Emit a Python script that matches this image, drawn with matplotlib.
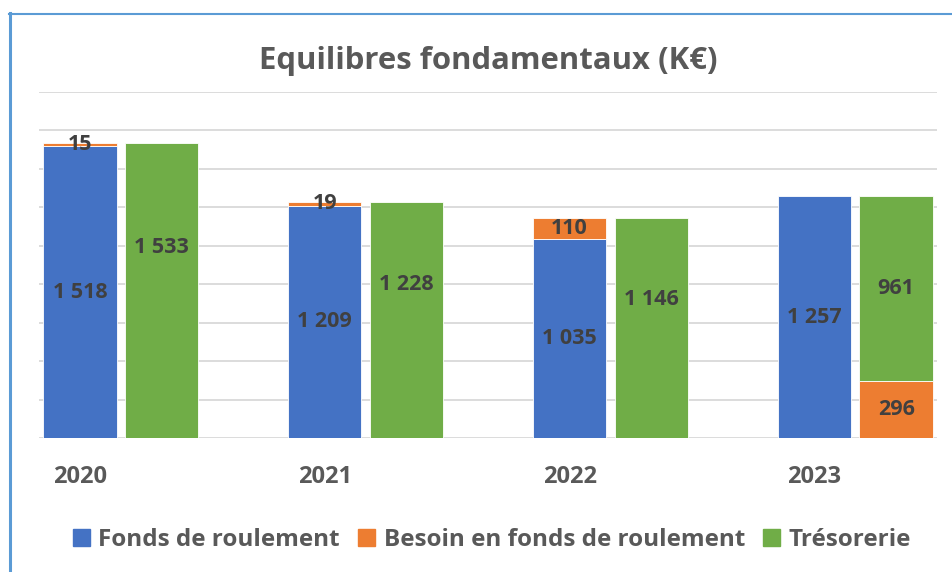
import matplotlib
matplotlib.use("Agg")
import matplotlib.pyplot as plt
from matplotlib.patches import Rectangle
from matplotlib.lines import Line2D

# ---- data ----
years = ["2020", "2021", "2022", "2023"]
fonds_roulement = [1518, 1209, 1035, 1257]
besoin_fr = [15, 19, 110, -296]          # negative -> shown under Trésorerie
tresorerie = [1533, 1228, 1146, 961]
series_names = ["Fonds de roulement", "Besoin en fonds de roulement", "Trésorerie"]

# ---- style ----
C_FR, C_BFR, C_TR = "#4472C4", "#ED7D31", "#70AD47"
TXT = "#595959"
LBL = "#404040"
GRID = "#D9D9D9"
FONT = "Open Sans"
green_label_frac = [0.645, 0.65, 0.63, 0.5]

W, H = 952, 572
fig = plt.figure(figsize=(W / 100, H / 100), dpi=100)
fig.patch.set_facecolor("white")

def fx(px):
    return px / W

def fy(py):
    return 1 - py / H

ax = fig.add_axes([fx(39), fy(438), fx(937) - fx(39), fy(92) - fy(438)])
ax.set_xlim(-0.5, 10.5)
ax.set_ylim(0, 1800)
ax.set_yticks(range(0, 1801, 200))
ax.yaxis.grid(True, color=GRID, linewidth=1.3)
ax.set_axisbelow(True)
for s in ax.spines.values():
    s.set_visible(False)
ax.tick_params(axis="y", length=0, labelleft=False)

bw = 0.9
fmt = lambda v: f"{abs(v):,}".replace(",", " ")
lab_kw = dict(ha="center", va="center", color=LBL, fontsize=15.5,
              fontweight="bold", family=FONT)

for i, yr in enumerate(years):
    xb = 3 * i
    xg = 3 * i + 1
    fr = fonds_roulement[i]
    b = besoin_fr[i]
    t = tresorerie[i]
    ax.bar(xb, fr, width=bw, color=C_FR, edgecolor="white", linewidth=0.6)
    ax.text(xb, fr / 2, fmt(fr), **lab_kw)
    if b >= 0:
        ax.bar(xb, b, bottom=fr, width=bw, color=C_BFR, edgecolor="white", linewidth=0.6)
        ax.text(xb, fr + b / 2, fmt(b), **lab_kw)
        ax.bar(xg, t, width=bw, color=C_TR, edgecolor="white", linewidth=0.6)
        ax.text(xg, t * green_label_frac[i], fmt(t), **lab_kw)
    else:
        ab = abs(b)
        ax.bar(xg, ab, width=bw, color=C_BFR, edgecolor="white", linewidth=0.6)
        ax.text(xg, ab / 2, fmt(b), **lab_kw)
        ax.bar(xg, t, bottom=ab, width=bw, color=C_TR, edgecolor="white", linewidth=0.6)
        ax.text(xg, ab + t * green_label_frac[i], fmt(t), **lab_kw)

ax.set_xticks([3 * i for i in range(len(years))])
ax.set_xticklabels(years, fontsize=17, fontweight="bold", color=TXT, family=FONT)
ax.tick_params(axis="x", length=0, pad=32.4)
for lab in ax.get_xticklabels():
    lab.set_va("baseline")

# title
fig.text(fx(488), fy(69), "Equilibres fondamentaux (K€)", ha="center", va="baseline",
         fontsize=22.4, fontweight="bold", color=TXT, family=FONT)

# legend
handles = [Rectangle((0, 0), 1, 1, color=c) for c in (C_FR, C_BFR, C_TR)]
leg = fig.legend(handles, series_names, loc="center", bbox_to_anchor=(fx(492), fy(540)),
                 ncol=3, frameon=False, handlelength=0.7, handleheight=0.7,
                 handletextpad=0.34, columnspacing=0.75, borderpad=0, borderaxespad=0,
                 prop={"family": FONT, "weight": "bold", "size": 17.5})
for t in leg.get_texts():
    t.set_color(TXT)

# outer frame (chart border, cropped)
fig.add_artist(Line2D([fx(10), fx(10)], [fy(13), 0], color="#5B9BD5", linewidth=2.2))
fig.add_artist(Line2D([fx(9), 1], [fy(14), fy(14)], color="#5B9BD5", linewidth=1.5))

fig.savefig("out.png", dpi=100, facecolor="white")
